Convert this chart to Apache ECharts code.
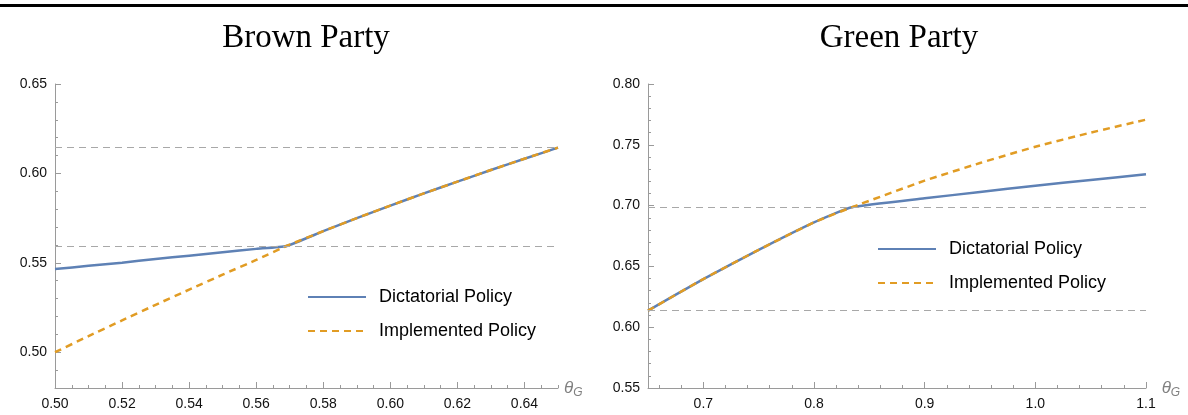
<!DOCTYPE html>
<html>
<head>
<meta charset="utf-8">
<title>Brown Party / Green Party</title>
<script src="https://cdn.jsdelivr.net/npm/echarts@6/dist/echarts.min.js"></script>
<style>
    html, body { margin: 0; padding: 0; background: #fff; }
    #main { width: 1188px; height: 415px; }
</style>
</head>
<body>
<div id="main"></div>
<script>
// 左图 Brown Party 数据
var brownTheta = [0.50, 0.51, 0.52, 0.53, 0.54, 0.55, 0.56, 0.569, 0.58, 0.59, 0.60, 0.61, 0.62, 0.63, 0.64, 0.65];
var brownDict = [0.5465, 0.5483, 0.5501, 0.5521, 0.5540, 0.5559, 0.5578, 0.5594, 0.5677, 0.5750, 0.5820, 0.5888, 0.5954, 0.6019, 0.6082, 0.6144];
var brownImpl = [0.5000, 0.5090, 0.5178, 0.5265, 0.5350, 0.5434, 0.5516, 0.5594, 0.5677, 0.5750, 0.5820, 0.5888, 0.5954, 0.6019, 0.6082, 0.6144];
var brownRefs = [0.5594, 0.6146];
var brownXTicks = [0.50, 0.52, 0.54, 0.56, 0.58, 0.60, 0.62, 0.64];
var brownYTicks = [0.50, 0.55, 0.60, 0.65];

// 右图 Green Party 数据
var greenTheta = [0.65, 0.70, 0.75, 0.80, 0.834, 0.90, 0.95, 1.00, 1.05, 1.10];
var greenDict = [0.6136, 0.6396, 0.6636, 0.6862, 0.6986, 0.7060, 0.7112, 0.7163, 0.7211, 0.7258];
var greenImpl = [0.6136, 0.6396, 0.6636, 0.6862, 0.6986, 0.7205, 0.7350, 0.7484, 0.7600, 0.7707];
var greenRefs = [0.6136, 0.6986];
var greenXTicks = [0.7, 0.8, 0.9, 1.0, 1.1];
var greenYTicks = [0.55, 0.60, 0.65, 0.70, 0.75, 0.80];

var names = ['Dictatorial Policy', 'Implemented Policy'];
var blue = '#5E81B5';
var orange = '#E19C24';
var axisGray = '#9a9a9a';

//拼接 [x, y]
function pairs(xs, ys) {
    return xs.map(function(x, i) { return [x, ys[i]]; });
}

//小刻度
function steps(from, to, step) {
    var out = [];
    for (var v = from; v <= to + 1e-9; v += step) {
        out.push(Math.round(v * 1000) / 1000);
    }
    return out;
}

function mainAxis(grid, min, max, ticks, digits, isX) {
    var ax = {
        type: 'value',
        gridIndex: grid,
        position: isX ? 'bottom' : 'left',
        min: min,
        max: max,
        axisLine: { show: true, lineStyle: { color: axisGray, width: 1 } },
        axisTick: { show: true, inside: true, length: 6, customValues: ticks, lineStyle: { color: axisGray } },
        axisLabel: {
            customValues: ticks,
            color: '#111',
            fontFamily: 'Liberation Sans',
            fontSize: 14,
            margin: isX ? 9 : 8,
            formatter: function(v) { return v.toFixed(digits); }
        },
        splitLine: { show: false }
    };
    if (isX) {
        ax.name = '{t|θ}{s|G}';
        ax.nameLocation = 'end';
        ax.nameGap = 6;
        ax.nameTextStyle = {
            rich: {
                t: { fontFamily: 'Liberation Sans', fontStyle: 'italic', fontSize: 17, color: '#808080' },
                s: { fontFamily: 'Liberation Sans', fontStyle: 'italic', fontSize: 12, color: '#808080', padding: [9, 0, 0, 0] }
            }
        };
    }
    return ax;
}

function minorAxis(grid, min, max, ticks, isX) {
    return {
        type: 'value',
        gridIndex: grid,
        position: isX ? 'bottom' : 'left',
        min: min,
        max: max,
        axisLine: { show: false },
        axisTick: { show: true, inside: true, length: 3, customValues: ticks, lineStyle: { color: axisGray } },
        axisLabel: { show: false },
        splitLine: { show: false }
    };
}

function refLine(vals) {
    return {
        silent: true,
        symbol: 'none',
        precision: 4,
        label: { show: false },
        lineStyle: { color: '#a8a8a8', type: [7, 5], width: 1 },
        data: vals.map(function(v) { return { yAxis: v }; })
    };
}

function legendAt(left, top) {
    return {
        data: names,
        orient: 'vertical',
        left: left,
        top: top,
        padding: 0,
        itemWidth: 58,
        itemHeight: 14,
        itemGap: 16,
        itemStyle: { opacity: 0 },
        textStyle: { fontFamily: 'Liberation Sans', fontSize: 18, color: '#000', padding: [0, 0, 0, 8] }
    };
}

var chart = echarts.init(document.getElementById('main'));

var option = {
    animation: false,
    graphic: [{
        type: 'rect',
        shape: { x: 0, y: 4, width: 1188, height: 3 },
        style: { fill: '#000' }
    }],
    title: [{
        text: 'Brown Party',
        left: 301,
        top: 17,
        textAlign: 'center',
        textStyle: { fontFamily: 'Liberation Serif', fontWeight: 'normal', fontSize: 33, color: '#000' }
    }, {
        text: 'Green Party',
        left: 894,
        top: 17,
        textAlign: 'center',
        textStyle: { fontFamily: 'Liberation Serif', fontWeight: 'normal', fontSize: 33, color: '#000' }
    }],
    legend: [legendAt(307, 288), legendAt(877, 240)],
    grid: [
        { left: 55, right: 630, top: 84, bottom: 27 },
        { left: 648, right: 42, top: 84, bottom: 27 }
    ],
    xAxis: [
        mainAxis(0, 0.50, 0.65, brownXTicks, 2, true),
        minorAxis(0, 0.50, 0.65, steps(0.50, 0.65, 0.005), true),
        mainAxis(1, 0.65, 1.10, greenXTicks, 1, true),
        minorAxis(1, 0.65, 1.10, steps(0.66, 1.10, 0.02), true)
    ],
    yAxis: [
        mainAxis(0, 0.48, 0.65, brownYTicks, 2, false),
        minorAxis(0, 0.48, 0.65, steps(0.48, 0.65, 0.01), false),
        mainAxis(1, 0.55, 0.80, greenYTicks, 2, false),
        minorAxis(1, 0.55, 0.80, steps(0.55, 0.80, 0.01), false)
    ],
    series: [{
        name: names[0],
        type: 'line',
        xAxisIndex: 0,
        yAxisIndex: 0,
        symbol: 'none',
        smooth: 0.15,
        lineStyle: { color: blue, width: 2.5 },
        itemStyle: { color: blue },
        data: pairs(brownTheta, brownDict),
        markLine: refLine(brownRefs),
        z: 2
    }, {
        name: names[1],
        type: 'line',
        xAxisIndex: 0,
        yAxisIndex: 0,
        symbol: 'none',
        smooth: 0.15,
        lineStyle: { color: orange, width: 2.5, type: [7, 5] },
        itemStyle: { color: orange },
        data: pairs(brownTheta, brownImpl),
        z: 3
    }, {
        name: names[0],
        type: 'line',
        xAxisIndex: 2,
        yAxisIndex: 2,
        symbol: 'none',
        smooth: 0.15,
        lineStyle: { color: blue, width: 2.5 },
        itemStyle: { color: blue },
        data: pairs(greenTheta, greenDict),
        markLine: refLine(greenRefs),
        z: 2
    }, {
        name: names[1],
        type: 'line',
        xAxisIndex: 2,
        yAxisIndex: 2,
        symbol: 'none',
        smooth: 0.15,
        lineStyle: { color: orange, width: 2.5, type: [7, 5] },
        itemStyle: { color: orange },
        data: pairs(greenTheta, greenImpl),
        z: 3
    }]
};

chart.setOption(option);
</script>
</body>
</html>
